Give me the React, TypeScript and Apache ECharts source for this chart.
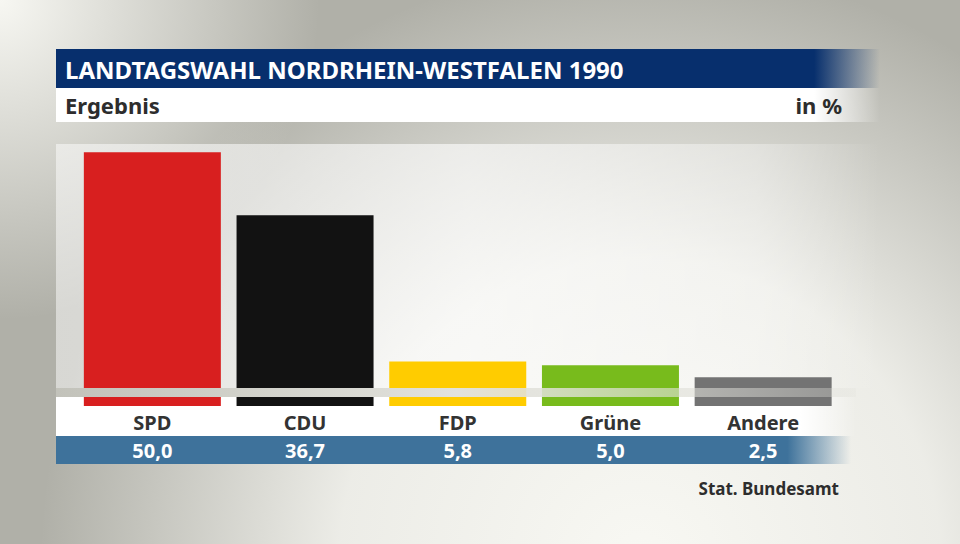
import React, { useEffect, useRef } from "react";
import * as echarts from "echarts";

const categories = ["SPD", "CDU", "FDP", "Grüne", "Andere"];
const values = [50.0, 36.7, 5.8, 5.0, 2.5];
const colors = ["#d81f1f", "#121212", "#ffcc00", "#78bb1c", "#737373"];
const titleText = "LANDTAGSWAHL NORDRHEIN-WESTFALEN 1990";
const subtitleText = "Ergebnis";
const unitText = "in %";
const sourceText = "Stat. Bundesamt";

const FONT = "'Noto Sans', 'DejaVu Sans', sans-serif";

export default function App() {
  const ref = useRef<HTMLDivElement>(null);
  useEffect(() => {
    document.body.style.margin = "0";
    const chart = echarts.init(ref.current!, null, { renderer: "svg" });
    const fmt = values.map((v) => v.toFixed(1).replace(".", ","));
    const hFade = (c: string, c0: string, stop: number) =>
      new echarts.graphic.LinearGradient(0, 0, 1, 0, [
        { offset: 0, color: c },
        { offset: stop, color: c },
        { offset: 1, color: c0 },
      ]);
    const full = { x: 0, y: 0, width: 960, height: 544 };
    chart.setOption({
      animation: false,
      grid: { left: 76, right: 120.5, top: 128.5, bottom: 155 },
      xAxis: [
        {
          type: "category",
          data: categories,
          z: 5,
          axisLine: { show: false },
          axisTick: { show: false },
          axisLabel: {
            margin: 23,
            fontFamily: FONT,
            fontWeight: "bold",
            fontSize: 20,
            color: "#333333",
          },
        },
        {
          type: "category",
          data: fmt,
          position: "bottom",
          offset: 0,
          z: 5,
          axisLine: { show: false },
          axisTick: { show: false },
          axisLabel: {
            margin: 51,
            fontFamily: FONT,
            fontWeight: "bold",
            fontSize: 20,
            color: "#ffffff",
          },
        },
      ],
      yAxis: { type: "value", min: 0, max: 55, show: false },
      graphic: {
        elements: [
          {
            type: "rect",
            z: 0,
            shape: full,
            style: { fill: "#b0b0a8" },
            silent: true,
          },
          {
            type: "rect",
            z: 0,
            shape: full,
            style: {
              fill: new echarts.graphic.RadialGradient(
                640, 560, 600,
                [
                  { offset: 0, color: "rgba(248,248,243,1)" },
                  { offset: 0.5, color: "rgba(243,243,238,0.9)" },
                  { offset: 1, color: "rgba(242,242,237,0)" },
                ],
                true
              ),
            },
            silent: true,
          },
          {
            type: "rect",
            z: 0,
            shape: full,
            style: {
              fill: new echarts.graphic.RadialGradient(
                0, 0, 320,
                [
                  { offset: 0, color: "rgba(247,247,242,1)" },
                  { offset: 1, color: "rgba(247,247,242,0)" },
                ],
                true
              ),
            },
            silent: true,
          },
          {
            type: "rect",
            z: 0,
            shape: { x: 56, y: 144, width: 824, height: 244 },
            style: {
              fill: new echarts.graphic.LinearGradient(0, 0, 1, 0, [
                { offset: 0, color: "rgba(255,255,255,0.5)" },
                { offset: 0.5, color: "rgba(255,255,255,0.62)" },
                { offset: 0.85, color: "rgba(255,255,255,0.35)" },
                { offset: 1, color: "rgba(255,255,255,0)" },
              ]),
            },
            silent: true,
          },
          {
            type: "rect",
            z: 0,
            shape: { x: 56, y: 49, width: 824, height: 39 },
            style: { fill: hFade("#072f6d", "rgba(7,47,109,0)", 0.92) },
            silent: true,
          },
          {
            type: "rect",
            z: 0,
            shape: { x: 56, y: 88, width: 824, height: 34 },
            style: { fill: hFade("#ffffff", "rgba(255,255,255,0)", 0.92) },
            silent: true,
          },
          {
            type: "rect",
            z: 0,
            shape: { x: 56, y: 397, width: 800, height: 39 },
            style: { fill: hFade("#ffffff", "rgba(255,255,255,0)", 0.93) },
            silent: true,
          },
          {
            type: "rect",
            z: 0,
            shape: { x: 56, y: 436, width: 795, height: 28 },
            style: { fill: hFade("#3e729b", "rgba(62,114,155,0)", 0.92) },
            silent: true,
          },
          {
            type: "rect",
            z: 10,
            shape: { x: 56, y: 388, width: 800, height: 9 },
            style: {
              fill: new echarts.graphic.LinearGradient(0, 0, 1, 0, [
                { offset: 0, color: "#c2c2ba" },
                { offset: 0.5, color: "#e2e2dc" },
                { offset: 1, color: "rgba(226,226,220,0.3)" },
              ]),
            },
            silent: true,
          },
          {
            type: "text",
            z: 10,
            x: 65,
            y: 69,
            style: {
              text: titleText,
              fill: "#ffffff",
              font: `bold 24px ${FONT}`,
              verticalAlign: "middle",
            },
          },
          {
            type: "text",
            z: 10,
            x: 65,
            y: 105,
            style: {
              text: subtitleText,
              fill: "#2d2d2d",
              font: `bold 22px ${FONT}`,
              verticalAlign: "middle",
            },
          },
          {
            type: "text",
            z: 10,
            x: 842,
            y: 105,
            style: {
              text: unitText,
              fill: "#2d2d2d",
              font: `bold 22px ${FONT}`,
              align: "right",
              verticalAlign: "middle",
            },
          },
          {
            type: "text",
            z: 10,
            x: 839,
            y: 488,
            style: {
              text: sourceText,
              fill: "#2d2d2d",
              font: `bold 17px ${FONT}`,
              align: "right",
              verticalAlign: "middle",
            },
          },
        ],
      },
      series: [
        {
          type: "custom",
          z: 3,
          data: values.map((v, i) => [i, v]),
          renderItem: (params: any, api: any) => {
            const i = api.value(0);
            const top = api.coord([i, api.value(1)]);
            const base = api.coord([i, 0]);
            const w = 137;
            return {
              type: "rect",
              shape: { x: top[0] - w / 2, y: top[1], width: w, height: base[1] - top[1] + 17 },
              style: { fill: colors[i] },
            };
          },
        },
      ],
    });
    return () => chart.dispose();
  }, []);
  return <div ref={ref} style={{ width: 960, height: 544 }} />;
}
